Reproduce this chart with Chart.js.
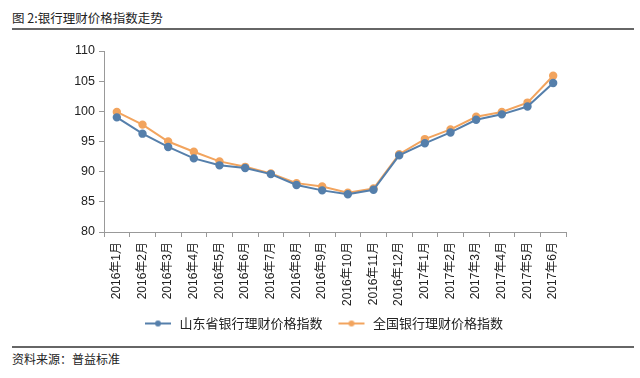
<!DOCTYPE html>
<html><head><meta charset="utf-8">
<script src="https://cdn.jsdelivr.net/npm/chart.js@4/dist/chart.umd.min.js"></script>
<style>
html,body{margin:0;padding:0;background:#fff;width:640px;height:378px;overflow:hidden;font-family:"Noto Sans CJK SC","Noto Sans",sans-serif;}
#title{position:absolute;left:12px;top:8px;font-size:12.5px;color:#222;}
#line1{position:absolute;left:12px;top:28px;width:622px;height:2px;background:#666;}
#line2{position:absolute;left:12px;top:346px;width:622px;height:2px;background:#666;}
#src{position:absolute;left:12px;top:350px;font-size:12px;color:#222;}
#wrap{position:absolute;left:0;top:0;width:640px;height:340px;}
</style></head><body>
<div id="title">图 2:银行理财价格指数走势</div>
<div id="line1"></div>
<div id="wrap"><canvas id="c"></canvas></div>
<div id="line2"></div>
<div id="src">资料来源：普益标准</div>
<script>
const categories = ["2016年1月","2016年2月","2016年3月","2016年4月","2016年5月","2016年6月","2016年7月","2016年8月","2016年9月","2016年10月","2016年11月","2016年12月","2017年1月","2017年2月","2017年3月","2017年4月","2017年5月","2017年6月"];
const shandong = [99.0,96.3,94.1,92.2,91.05,90.6,89.6,87.8,86.9,86.25,87.0,92.7,94.7,96.5,98.6,99.5,100.8,104.7];
const national = [99.9,97.8,95.0,93.3,91.7,90.8,89.7,88.1,87.55,86.5,87.2,92.9,95.4,97.0,99.1,99.9,101.45,105.9];
const seriesNames = ["山东省银行理财价格指数","全国银行理财价格指数"];
const yTicks = [80,85,90,95,100,105,110];

const blue = "#557fab", orange = "#f2a45e";
function legendIcon(color){
  const cv = document.createElement('canvas');
  cv.width = 36; cv.height = 10;
  const g = cv.getContext('2d');
  g.strokeStyle = color; g.lineWidth = 2;
  g.beginPath(); g.moveTo(8,5); g.lineTo(34,5); g.stroke();
  g.fillStyle = color; g.beginPath(); g.arc(21,5,3,0,Math.PI*2); g.fill();
  return cv;
}
const cvs = document.getElementById('c');
cvs.width = 640; cvs.height = 340;
new Chart(cvs, {
  type: 'line',
  data: {
    labels: categories,
    datasets: [
      {label: seriesNames[0], data: shandong, borderColor: blue, backgroundColor: blue, borderWidth: 2, pointRadius: 3.2, pointBackgroundColor: blue, pointBorderColor: blue, tension: 0},
      {label: seriesNames[1], data: national, borderColor: orange, backgroundColor: orange, borderWidth: 2, pointRadius: 3.2, pointBackgroundColor: orange, pointBorderColor: orange, tension: 0}
    ]
  },
  options: {
    responsive: false, animation: false, devicePixelRatio: 1,
    layout: {padding: {top: 51, left: 0, right: 0, bottom: 0}},
    plugins: {
      tooltip: {enabled: false},
      legend: {
        position: 'bottom',
        labels: {
          usePointStyle: true,
          pointStyleWidth: 36,
          generateLabels: (chart) => chart.data.datasets.map((d,i)=>({text: d.label, pointStyle: legendIcon(d.borderColor), fillStyle: d.borderColor, strokeStyle: d.borderColor, lineWidth: 0, datasetIndex: i, fontColor: '#222'})),
          font: {family: '"Noto Sans CJK SC"', size: 13},
          color: '#222',
          padding: 8
        }
      }
    },
    scales: {
      x: {
        offset: true,
        grid: {display: true, drawOnChartArea: false, offset: true, tickLength: 5, color: '#999'},
        border: {color: '#999', width: 1},
        ticks: {maxRotation: 90, minRotation: 90, autoSkip: false, color: '#222', font: {family: '"Liberation Sans","Noto Sans CJK SC"', size: 12}, padding: 5},
        afterFit: (s) => { s.height = 77; }
      },
      y: {
        min: 80, max: 110,
        afterBuildTicks: (s) => { s.ticks = yTicks.map(v => ({value: v})); },
        grid: {display: true, drawOnChartArea: false, tickLength: 5, color: '#999'},
        border: {color: '#999', width: 1},
        ticks: {color: '#222', font: {family: '"Liberation Sans", Arial', size: 12.5}, padding: 4},
        afterFit: (s) => { s.width = 104; }
      },
      yR: {
        position: 'right', display: true,
        grid: {display: false}, border: {display: false},
        ticks: {display: false},
        afterFit: (s) => { s.width = 74; }
      }
    }
  }
});
</script>
</body></html>
